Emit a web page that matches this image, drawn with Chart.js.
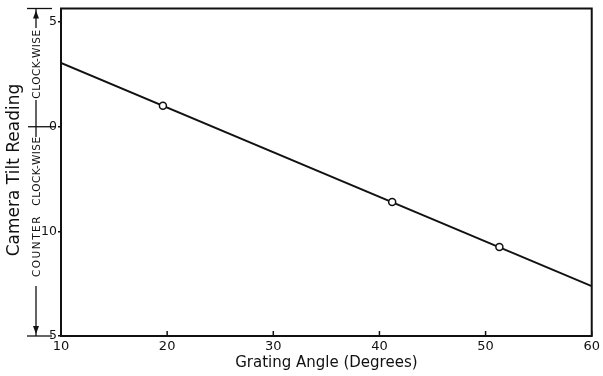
<!DOCTYPE html>
<html>
<head>
<meta charset="utf-8">
<script src="https://cdn.jsdelivr.net/npm/chart.js@4/dist/chart.umd.min.js"></script>
<style>
  html, body { margin: 0; padding: 0; background: #ffffff; }
  #wrap { width: 603px; height: 376px; position: relative; }
</style>
</head>
<body>
<div id="wrap"><canvas id="tiltChart"></canvas></div>
<script>
// Grating angle (degrees) vs camera tilt reading
const fitAngles = [10, 60];
const fitTilt = [3.05, -7.62];
const measuredAngles = [19.6, 41.2, 51.3];
const measuredTilt = [1.0, -3.6, -5.75];

// y tick positions and the labels printed beside them
const yTickValues = [5, 0, -5, -10];
const yTickLabels = ['5', '0', '10', '5'];
const xTickValues = [10, 20, 30, 40, 50, 60];

const FONT = '"DejaVu Sans", "Liberation Sans", sans-serif';

// Frame, inward x ticks and the hand-lettered axis captions
const framePlugin = {
    id: 'frame',
    afterDraw(chart) {
        const ctx = chart.ctx;
        const a = chart.chartArea;
        const xs = chart.scales.x;
        ctx.save();
        ctx.strokeStyle = '#111';
        ctx.lineWidth = 2;
        ctx.strokeRect(a.left, a.top, a.right - a.left, a.bottom - a.top);

        // x ticks point into the plot
        ctx.lineWidth = 1.5;
        xTickValues.forEach(v => {
            const px = xs.getPixelForValue(v);
            ctx.beginPath();
            ctx.moveTo(px, a.bottom);
            ctx.lineTo(px, a.bottom - 5);
            ctx.stroke();
        });

        // x title
        ctx.fillStyle = '#111';
        ctx.font = '15px ' + FONT;
        ctx.textAlign = 'center';
        ctx.textBaseline = 'middle';
        ctx.fillText('Grating Angle (Degrees)', (a.left + a.right) / 2, 363);

        // y title
        ctx.save();
        ctx.translate(15, 170);
        ctx.rotate(-Math.PI / 2);
        ctx.font = '17px ' + FONT;
        ctx.fillText('Camera Tilt Reading', 0, 0);
        ctx.restore();

        // direction bar with arrows
        const bx = 36;
        const ys = chart.scales.y;
        const y0 = ys.getPixelForValue(0);
        ctx.lineWidth = 1.3;
        const seg = (x1, y1, x2, y2) => {
            ctx.beginPath();
            ctx.moveTo(x1, y1);
            ctx.lineTo(x2, y2);
            ctx.stroke();
        };
        seg(27, a.top, 52, a.top);
        seg(27, a.bottom, 52, a.bottom);
        seg(bx, a.top, bx, 28);
        seg(bx, 100, bx, 137);
        seg(bx, 286, bx, a.bottom);
        seg(28, y0, 55, y0);
        // arrow heads
        ctx.beginPath();
        ctx.moveTo(bx, a.top + 2);
        ctx.lineTo(bx - 3, a.top + 10);
        ctx.lineTo(bx + 3, a.top + 10);
        ctx.closePath();
        ctx.fill();
        ctx.beginPath();
        ctx.moveTo(bx, a.bottom - 2);
        ctx.lineTo(bx - 3, a.bottom - 10);
        ctx.lineTo(bx + 3, a.bottom - 10);
        ctx.closePath();
        ctx.fill();

        ctx.font = '10.5px ' + FONT;
        const vtext = (t, cy, spacing) => {
            ctx.save();
            ctx.translate(bx + 1, cy);
            ctx.rotate(-Math.PI / 2);
            ctx.letterSpacing = spacing || '0px';
            ctx.fillText(t, 0, 0);
            ctx.restore();
        };
        vtext('CLOCK-WISE', 64, '0.5px');
        vtext('CLOCK-WISE', 171, '0.5px');
        vtext('COUNTER', 246, '1.5px');

        ctx.restore();
    }
};

const ctx = document.getElementById('tiltChart').getContext('2d');
new Chart(ctx, {
    type: 'scatter',
    data: {
        datasets: [
            {
                type: 'line',
                data: fitAngles.map((x, i) => ({ x: x, y: fitTilt[i] })),
                borderColor: '#111',
                borderWidth: 2,
                pointRadius: 0,
                fill: false,
                order: 2
            },
            {
                data: measuredAngles.map((x, i) => ({ x: x, y: measuredTilt[i] })),
                pointRadius: 3.5,
                pointBackgroundColor: '#ffffff',
                pointBorderColor: '#111',
                pointBorderWidth: 1.5,
                order: 1
            }
        ]
    },
    options: {
        responsive: true,
        maintainAspectRatio: false,
        animation: false,
        layout: { padding: { top: 6, right: 8, left: 0, bottom: 0 } },
        plugins: {
            legend: { display: false },
            tooltip: { enabled: false }
        },
        scales: {
            x: {
                type: 'linear',
                min: 10,
                max: 60,
                afterBuildTicks: s => { s.ticks = xTickValues.map(v => ({ value: v })); },
                afterFit: s => { s.height = 40; },
                border: { display: false },
                grid: { display: false, drawTicks: false },
                ticks: {
                    color: '#111',
                    padding: 3,
                    maxRotation: 0,
                    font: { family: FONT, size: 13 }
                }
            },
            y: {
                type: 'linear',
                min: -10,
                max: 5.65,
                afterBuildTicks: s => { s.ticks = yTickValues.map(v => ({ value: v })); },
                afterFit: s => { s.width = 61; },
                border: { display: false },
                grid: { drawOnChartArea: false, drawTicks: true, tickLength: 3, color: '#111', lineWidth: 1.5 },
                ticks: {
                    color: '#111',
                    padding: 1,
                    font: { family: FONT, size: 12.5 },
                    callback: v => {
                        const i = yTickValues.indexOf(v);
                        return i >= 0 ? yTickLabels[i] : '';
                    }
                }
            }
        }
    },
    plugins: [framePlugin]
});
</script>
</body>
</html>
